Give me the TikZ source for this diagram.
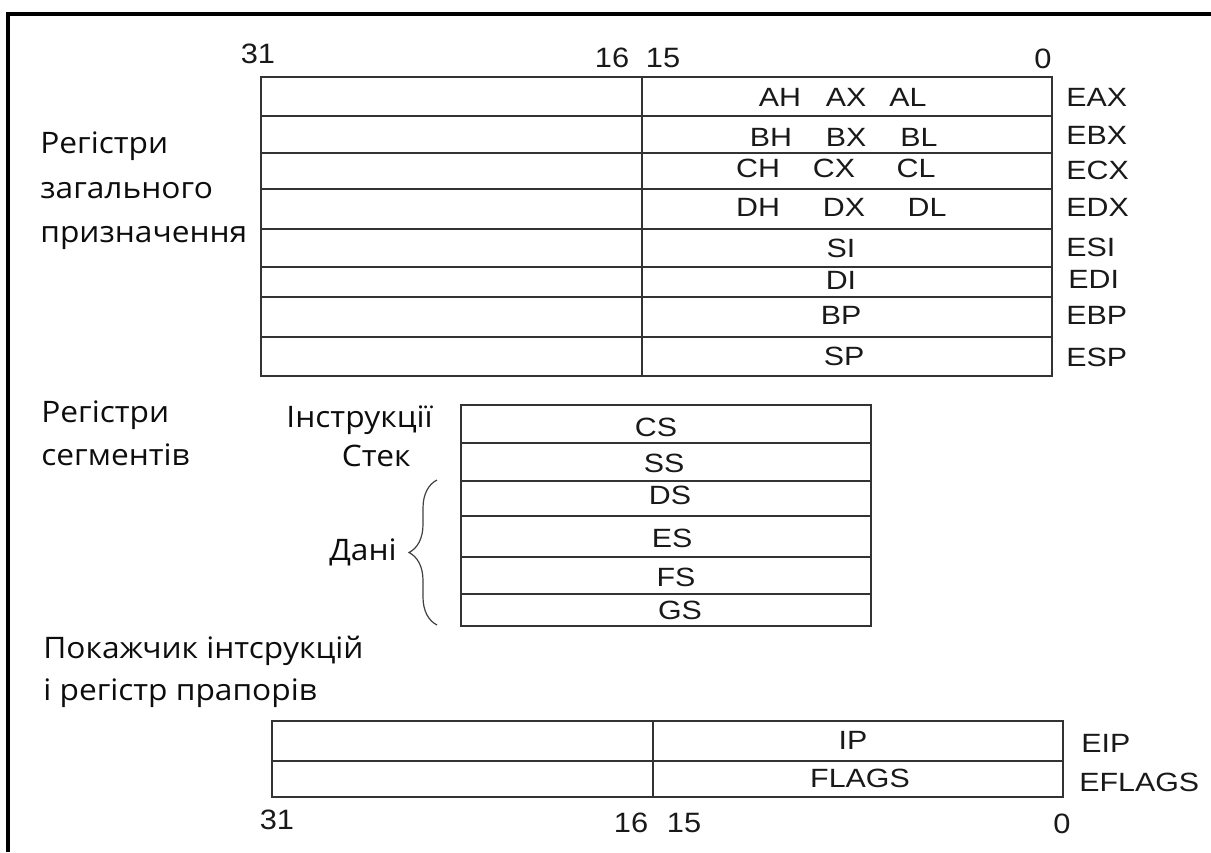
\documentclass[tikz,border=0pt]{standalone}
\usepackage{fontspec}
\setmainfont{Open Sans}[FakeStretch=1.07]
\newfontfamily\regfont{Liberation Sans}[FakeStretch=1.15]
\newfontfamily\bitfont{Liberation Sans}[FakeStretch=1.1]
\usetikzlibrary{decorations.pathreplacing}

\begin{document}
\begin{tikzpicture}[x=0.5pt,y=0.5pt]
            \tikzstyle{every node}+=[inner sep=0pt]
            \tikzstyle{reg}=[draw=black!80, line width=1pt]
            \tikzstyle{lbl}=[font=\regfont\fontsize{13.2}{15}\selectfont, text=black!90]
            \tikzstyle{bit}=[font=\bitfont\fontsize{14}{16}\selectfont, text=black!90]
            \tikzstyle{grp}=[font=\fontsize{14.8}{17}\selectfont, text=black!95, anchor=mid west]
            \useasboundingbox (0,0) rectangle (1211,-852);
            % outer frame
            \draw [black, line width=2pt] (8,-852) -- (8,-14) -- (1211,-14);
            % general purpose registers
            \draw [reg] (261,-77) rectangle (1052,-376);
            \draw [reg] (642,-77) -- (642,-376);
            \draw [reg] (261,-116) -- (1052,-116);
            \draw [reg] (261,-153) -- (1052,-153);
            \draw [reg] (261,-189) -- (1052,-189);
            \draw [reg] (261,-229) -- (1052,-229);
            \draw [reg] (261,-267) -- (1052,-267);
            \draw [reg] (261,-297) -- (1052,-297);
            \draw [reg] (261,-337) -- (1052,-337);
            \node [bit] (t31) at (258,-54) {31};
            \node [bit] (t16) at (612,-58) {16};
            \node [bit] (t15) at (663,-58) {15};
            \node [bit] (t0) at (1043,-59) {0};
            \node [lbl] (ah) at (780,-97) {AH};
            \node [lbl] (ax) at (846,-97) {AX};
            \node [lbl] (al) at (908,-97) {AL};
            \node [lbl] (bh) at (771,-137) {BH};
            \node [lbl] (bx) at (846,-137) {BX};
            \node [lbl] (bl) at (919,-137) {BL};
            \node [lbl] (ch) at (758,-168) {CH};
            \node [lbl] (cx) at (834,-168) {CX};
            \node [lbl] (cl) at (916,-168) {CL};
            \node [lbl] (dh) at (758,-207) {DH};
            \node [lbl] (dx) at (844,-207) {DX};
            \node [lbl] (dl) at (927,-207) {DL};
            \node [lbl] (si) at (841,-248) {SI};
            \node [lbl] (di) at (841,-280) {DI};
            \node [lbl] (bp) at (841,-315) {BP};
            \node [lbl] (sp) at (844,-356) {SP};
            \node [lbl, anchor=west] (eax) at (1066,-97) {EAX};
            \node [lbl, anchor=west] (ebx) at (1066,-135) {EBX};
            \node [lbl, anchor=west] (ecx) at (1066,-170) {ECX};
            \node [lbl, anchor=west] (edx) at (1066,-207) {EDX};
            \node [lbl, anchor=west] (esi) at (1066,-247) {ESI};
            \node [lbl, anchor=west] (edi) at (1068,-279) {EDI};
            \node [lbl, anchor=west] (ebp) at (1066,-315) {EBP};
            \node [lbl, anchor=west] (esp) at (1066,-357) {ESP};
            \node [grp] (gen1) at (40,-148) {Регістри};
            \node [grp] (gen2) at (40,-193) {загального};
            \node [grp] (gen3) at (40,-237) {призначення};
            % segment registers
            \draw [reg] (461,-405) rectangle (871,-626);
            \draw [reg] (461,-443) -- (871,-443);
            \draw [reg] (461,-481) -- (871,-481);
            \draw [reg] (461,-516) -- (871,-516);
            \draw [reg] (461,-557) -- (871,-557);
            \draw [reg] (461,-594) -- (871,-594);
            \node [lbl] (cs) at (656,-427) {CS};
            \node [lbl] (ss) at (664,-463) {SS};
            \node [lbl] (ds) at (670,-495) {DS};
            \node [lbl] (es) at (672,-538) {ES};
            \node [lbl] (fs) at (676,-577) {FS};
            \node [lbl] (gs) at (680,-610) {GS};
            \node [grp] (seg1) at (41,-417) {Регістри};
            \node [grp] (seg2) at (41,-460) {сегментів};
            \node [grp, anchor=mid east] (instr) at (433,-422) {Інструкції};
            \node [grp, anchor=mid east] (stack) at (411,-461) {Стек};
            \node [grp, anchor=mid east] (data) at (397,-555) {Дані};
            \coordinate (dtop) at (437,-480);
            \coordinate (dbot) at (437,-625);
            \draw [black!75, line width=0.6pt, decorate, decoration={brace, amplitude=14pt}] (dbot) -- (dtop);
            % instruction pointer and flags
            \draw [reg] (272,-721) rectangle (1063,-797);
            \draw [reg] (272,-761) -- (1063,-761);
            \draw [reg] (653,-721) -- (653,-797);
            \node [lbl] (ip) at (853,-740) {IP};
            \node [lbl] (flags) at (860,-778) {FLAGS};
            \node [lbl, anchor=west] (eip) at (1081,-743) {EIP};
            \node [lbl, anchor=west] (eflags) at (1079,-782) {EFLAGS};
            \node [bit] (b31) at (277,-820) {31};
            \node [bit] (b16) at (631,-823) {16};
            \node [bit] (b15) at (684,-823) {15};
            \node [bit] (b0) at (1062,-824) {0};
            \node [grp] (ptr1) at (43,-653) {Покажчик інтсрукцій};
            \node [grp] (ptr2) at (43,-695) {і регістр прапорів};
\end{tikzpicture}
\end{document}
